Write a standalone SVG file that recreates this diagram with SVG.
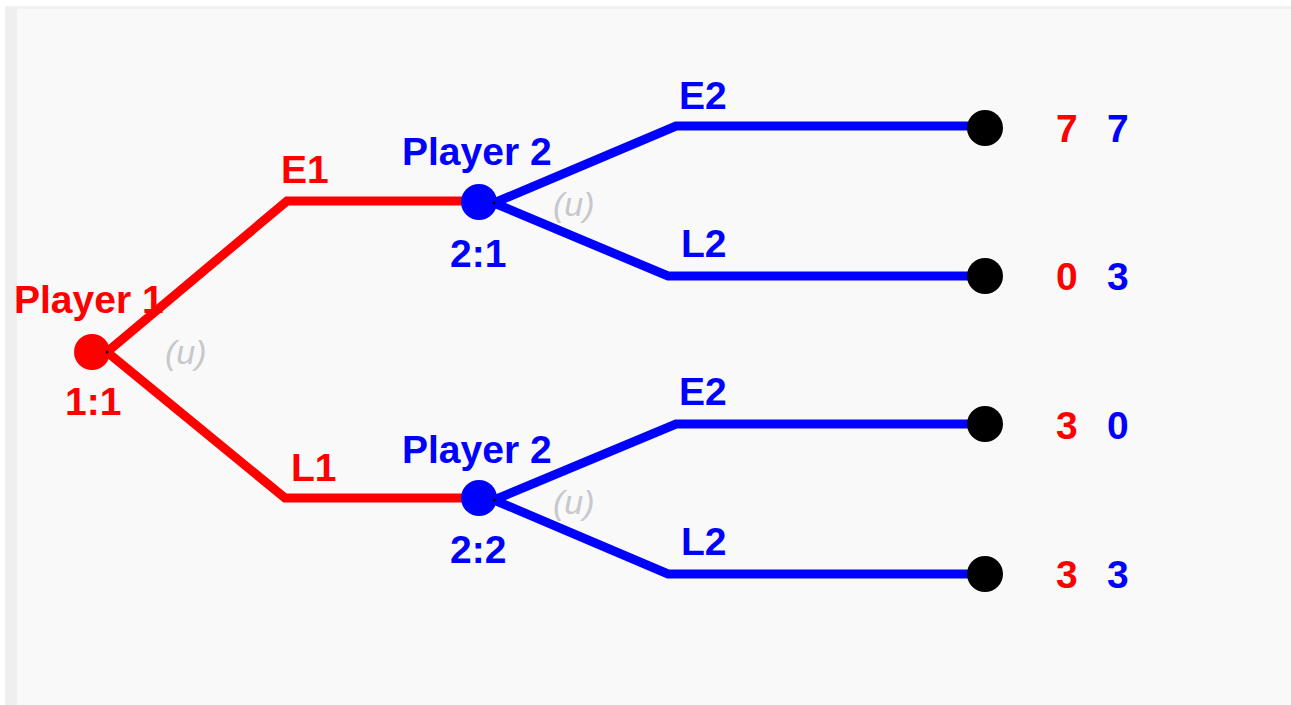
<svg xmlns="http://www.w3.org/2000/svg" width="1291" height="705" viewBox="0 0 1291 705">
<style>
.t{font-family:"Liberation Sans",Arial,sans-serif;font-weight:bold;font-size:39px}
.r{fill:#ff0000}.b{fill:#0000ff}
.u{font-family:"Liberation Sans",Arial,sans-serif;font-style:italic;font-size:34px;fill:#c6c8cc}
.er{stroke:#ff0000;stroke-width:9;fill:none;stroke-linejoin:miter}
.eb{stroke:#0000ff;stroke-width:9;fill:none;stroke-linejoin:miter}
</style>
<rect width="1291" height="705" fill="#ffffff"/>
<rect x="5" y="6" width="1286" height="699" fill="#f9f9f9"/>
<rect x="5" y="6" width="12" height="699" fill="#efefef"/>
<rect x="5" y="6" width="1286" height="3" fill="#f1f1f1"/>
<g id="connectors">
<polyline class="er" points="107,352 287,201 480,201"/>
<polyline class="er" points="107,352 285,498 480,498"/>
<polyline class="eb" points="494,203 676,126 985,126"/>
<polyline class="eb" points="494,203 668,276 985,276"/>
<polyline class="eb" points="494,500 676,424 985,424"/>
<polyline class="eb" points="494,500 668,574 985,574"/>
<text class="t r" x="281" y="183">E1</text>
<text class="t r" x="291" y="481">L1</text>
<text class="t b" x="679" y="109">E2</text>
<text class="t b" x="681" y="257">L2</text>
<text class="t b" x="679" y="405">E2</text>
<text class="t b" x="681" y="555">L2</text>
</g>
<g id="node-1-1">
<circle cx="92" cy="352" r="18" fill="#ff0000"/>
<circle cx="107" cy="352" r="1.5" fill="#000"/>
<text class="t r" x="14" y="313">Player 1</text>
<text class="t r" x="65" y="415">1:1</text>
<text class="u" x="165" y="364">(u)</text>
</g>
<g id="node-2-1">
<circle cx="479" cy="202" r="18" fill="#0000ff"/>
<circle cx="494" cy="203" r="1.5" fill="#000"/>
<text class="t b" x="402" y="165">Player 2</text>
<text class="t b" x="450" y="267">2:1</text>
<text class="u" x="553" y="216">(u)</text>
</g>
<g id="node-2-2">
<circle cx="479" cy="498" r="18" fill="#0000ff"/>
<circle cx="494" cy="500" r="1.5" fill="#000"/>
<text class="t b" x="402" y="463">Player 2</text>
<text class="t b" x="450" y="563">2:2</text>
<text class="u" x="553" y="514">(u)</text>
</g>
<g id="leaf-1">
<circle cx="985" cy="128" r="18" fill="#000"/>
<text class="t r" x="1056" y="142">7</text>
<text class="t b" x="1107" y="142">7</text>
</g>
<g id="leaf-2">
<circle cx="985" cy="276" r="18" fill="#000"/>
<text class="t r" x="1056" y="290">0</text>
<text class="t b" x="1107" y="290">3</text>
</g>
<g id="leaf-3">
<circle cx="985" cy="424" r="18" fill="#000"/>
<text class="t r" x="1056" y="439">3</text>
<text class="t b" x="1107" y="439">0</text>
</g>
<g id="leaf-4">
<circle cx="985" cy="574" r="18" fill="#000"/>
<text class="t r" x="1056" y="588">3</text>
<text class="t b" x="1107" y="588">3</text>
</g>
</svg>
